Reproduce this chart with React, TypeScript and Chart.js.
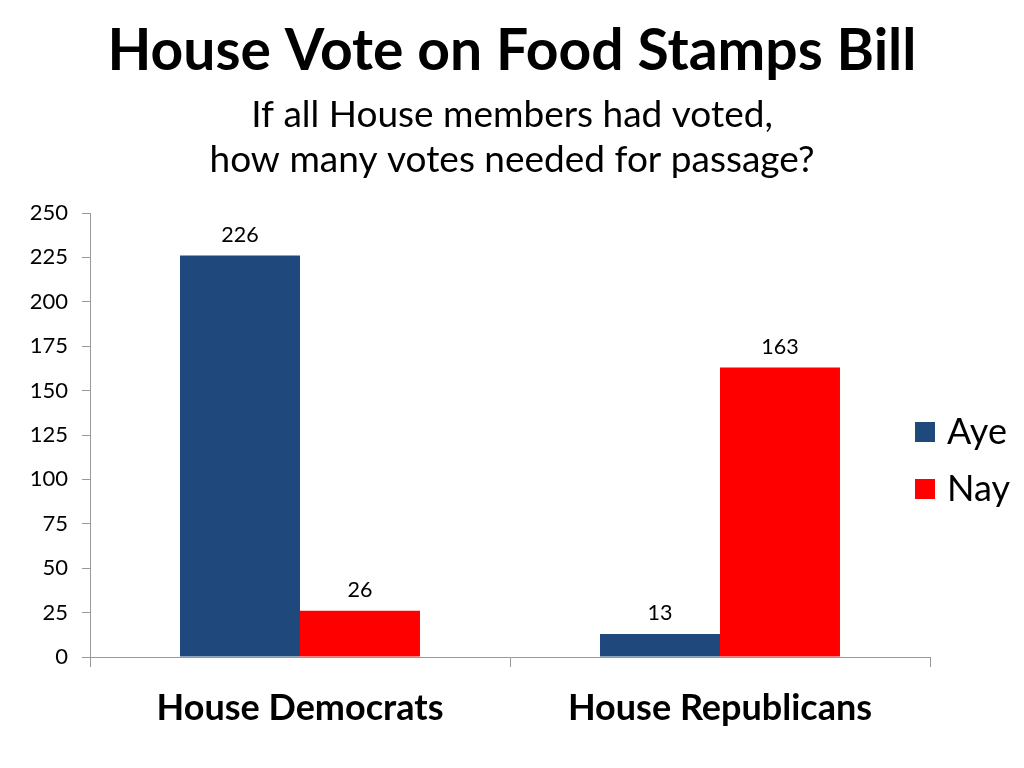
import React, { useEffect, useRef } from "react";
import { Chart, registerables } from "chart.js";

Chart.register(...registerables);

const categories = ["House Democrats", "House Republicans"];
const ayeValues = [226, 13];
const nayValues = [26, 163];
const seriesNames = ["Aye", "Nay"];
const seriesColors = ["#1F497D", "#FF0000"];
const yTicks = [0, 25, 50, 75, 100, 125, 150, 175, 200, 225, 250];
const titleText = "House Vote on Food Stamps Bill";
const subtitleLines = ["If all House members had voted,", "how many votes needed for passage?"];

const FONT = "Lato, 'Open Sans', sans-serif";

const textPlugin = {
  id: "customText",
  afterDraw(chart: any) {
    const ctx = chart.ctx;
    ctx.save();
    ctx.fillStyle = "#000";
    ctx.textAlign = "center";
    ctx.textBaseline = "middle";
    ctx.font = `bold 57px ${FONT}`;
    ctx.fillText(titleText, 512, 52);
    ctx.font = `37px ${FONT}`;
    ctx.fillText(subtitleLines[0], 512, 115);
    ctx.fillText(subtitleLines[1], 512, 160);

    // data labels
    ctx.font = `21.5px ${FONT}`;
    ctx.textBaseline = "bottom";
    chart.data.datasets.forEach((ds: any, i: number) => {
      const meta = chart.getDatasetMeta(i);
      meta.data.forEach((bar: any, j: number) => {
        ctx.fillText(String(ds.data[j]), bar.x, bar.y - 10);
      });
    });

    // legend
    ctx.textAlign = "left";
    ctx.textBaseline = "middle";
    ctx.font = `36px ${FONT}`;
    const legendY = [432, 489];
    seriesNames.forEach((name, i) => {
      ctx.fillStyle = seriesColors[i];
      ctx.fillRect(915, legendY[i] - 10, 20, 20);
      ctx.fillStyle = "#000";
      ctx.fillText(name, 947, legendY[i]);
    });
    ctx.restore();
  },
};

export default function App() {
  const ref = useRef<HTMLCanvasElement>(null);
  useEffect(() => {
    if (!ref.current) return;
    const chart = new Chart(ref.current, {
      type: "bar",
      data: {
        labels: categories,
        datasets: [
          { label: seriesNames[0], data: ayeValues, backgroundColor: seriesColors[0] },
          { label: seriesNames[1], data: nayValues, backgroundColor: seriesColors[1] },
        ],
      },
      options: {
        animation: false,
        responsive: false,
        layout: { padding: { top: 213, right: 94, left: 0, bottom: 0 } },
        datasets: { bar: { categoryPercentage: 0.5714, barPercentage: 1 } },
        plugins: {
          legend: { display: false },
          title: { display: false },
          tooltip: { enabled: false },
        },
        scales: {
          x: {
            afterFit: (s: any) => { s.height = 111; },
            grid: { drawOnChartArea: false, tickLength: 10, color: "#999", offset: true },
            border: { color: "#999" },
            ticks: { color: "#000", font: { family: FONT, size: 36, weight: "bold" }, padding: 20 },
          },
          y: {
            min: 0,
            max: 250,
            afterFit: (s: any) => { s.width = 90; },
            afterBuildTicks: (s: any) => { s.ticks = yTicks.map((v) => ({ value: v })); },
            grid: { drawOnChartArea: false, tickLength: 8, color: "#999" },
            border: { color: "#999" },
            ticks: { color: "#000", font: { family: FONT, size: 22 }, padding: 14 },
          },
        },
      },
      plugins: [textPlugin],
    });
    return () => chart.destroy();
  }, []);
  return (
    <div style={{ position: "fixed", left: 0, top: 0, width: 1024, height: 768, background: "#fff" }}>
      <canvas ref={ref} width={1024} height={768} />
    </div>
  );
}
